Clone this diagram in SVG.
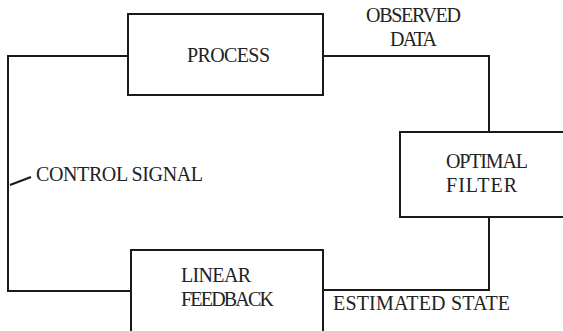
<svg xmlns="http://www.w3.org/2000/svg" width="563" height="331" viewBox="0 0 563 331">
<style>
.box{fill:#fff;stroke:#1a1a1a;stroke-width:2}
.wire{fill:none;stroke:#1a1a1a;stroke-width:2}
text{font-family:"Liberation Serif","Times New Roman",serif;font-size:20px;fill:#222}
</style>
<rect width="563" height="331" fill="#fff"/>
<g id="connectors">
<polyline class="wire" points="128,56 8,56 8,291 131,291"/>
<polyline class="wire" points="323,56 489,56 489,132"/>
<polyline class="wire" points="489,217 489,290 323,290"/>
<line class="wire" x1="10" y1="185" x2="31" y2="177" stroke-width="1.5"/>
<text x="36" y="181" textLength="167" lengthAdjust="spacing">CONTROL SIGNAL</text>
<text x="366" y="22" textLength="95" lengthAdjust="spacing">OBSERVED</text>
<text x="390" y="46" textLength="47" lengthAdjust="spacing">DATA</text>
<text x="333" y="310" textLength="177" lengthAdjust="spacing">ESTIMATED STATE</text>
</g>
<g id="process">
<rect class="box" x="128" y="14" width="195" height="81"/>
<text x="187" y="62" textLength="83" lengthAdjust="spacing">PROCESS</text>
</g>
<g id="optimal-filter">
<rect class="box" x="400" y="132" width="175" height="85"/>
<text x="446" y="168" textLength="82" lengthAdjust="spacing">OPTIMAL</text>
<text x="446" y="192" textLength="71" lengthAdjust="spacing">FILTER</text>
</g>
<g id="linear-feedback">
<rect class="box" x="131" y="250" width="192" height="100"/>
<text x="181" y="282" textLength="70" lengthAdjust="spacing">LINEAR</text>
<text x="181" y="306" textLength="93" lengthAdjust="spacing">FEEDBACK</text>
</g>
</svg>
